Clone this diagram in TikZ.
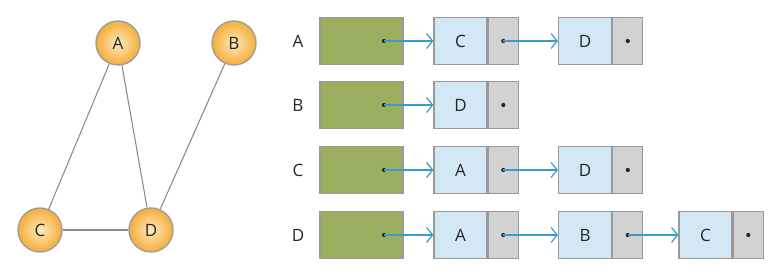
\documentclass[tikz,border=0pt]{standalone}
\usepackage{fontspec}
\setmainfont{Open Sans}
\usetikzlibrary{arrows.meta,positioning}
\definecolor{vertexorange}{HTML}{F5AE38}
\definecolor{vertexlight}{HTML}{FDE9BC}
\definecolor{headgreen}{HTML}{9BAF60}
\definecolor{cellblue}{HTML}{D4E7F5}
\definecolor{cellgray}{HTML}{D2D2D2}
\definecolor{linkblue}{HTML}{3C9BC9}

\begin{document}
\begin{tikzpicture}[x=1pt,y=-1pt,font=\fontsize{17}{20}\selectfont,text=black!85,
  vertex/.style={circle,draw=black!38,line width=1.4,inner color=vertexlight,outer color=vertexorange,minimum size=44,inner sep=0},
  edge/.style={draw=black!45,line width=1.1},
  head/.style={draw=black!40,line width=1.3,fill=headgreen,minimum width=83,minimum height=47,inner sep=0},
  datum/.style={draw=black!40,line width=1.3,fill=cellblue,minimum width=53,minimum height=47,inner sep=0},
  ptr/.style={draw=black!40,line width=1.3,fill=cellgray,minimum width=30,minimum height=47,inner sep=0,right=0pt of #1},
  pin/.style={circle,fill=black!85,minimum size=4.2,inner sep=0},
  link/.style={draw=linkblue,line width=1.2,-{Straight Barb[length=6,width=15,line width=1.2]}}]
\useasboundingbox (0,0) rectangle (776,275);
% graph
\node[vertex] (vA) at (118,43) {A};
\node[vertex] (vB) at (234,43) {B};
\node[vertex] (vC) at (40,230) {C};
\node[vertex] (vD) at (151,230) {D};
\draw[edge] (vA) -- (vC);
\draw[edge] (vA) -- (vD);
\draw[edge] (vB) -- (vD);
\draw[edge] (vC) -- (vD);
% adjacency lists
\node (lA) at (298,41) {A};
\node[head] (hA) at (361.5,41) {};
\node[pin] (hpA) at (384,41) {};
\node[datum] (aA1) at (460.5,41) {C};
\node[ptr=aA1] (pA1) {};
\node[pin] (dA1) at (pA1) {};
\node[datum] (aA2) at (585,41) {D};
\node[ptr=aA2] (pA2) {};
\node[pin] (dA2) at (pA2) {};
\draw[link] (hpA.center) -- (aA1.west);
\draw[link] (dA1.center) -- (aA2.west);

\node (lB) at (298,105) {B};
\node[head] (hB) at (361.5,105) {};
\node[pin] (hpB) at (384,105) {};
\node[datum] (aB1) at (460.5,105) {D};
\node[ptr=aB1] (pB1) {};
\node[pin] (dB1) at (pB1) {};
\draw[link] (hpB.center) -- (aB1.west);

\node (lC) at (298,170) {C};
\node[head] (hC) at (361.5,170) {};
\node[pin] (hpC) at (384,170) {};
\node[datum] (aC1) at (460.5,170) {A};
\node[ptr=aC1] (pC1) {};
\node[pin] (dC1) at (pC1) {};
\node[datum] (aC2) at (585,170) {D};
\node[ptr=aC2] (pC2) {};
\node[pin] (dC2) at (pC2) {};
\draw[link] (hpC.center) -- (aC1.west);
\draw[link] (dC1.center) -- (aC2.west);

\node (lD) at (298,235) {D};
\node[head] (hD) at (361.5,235) {};
\node[pin] (hpD) at (384,235) {};
\node[datum] (aD1) at (460.5,235) {A};
\node[ptr=aD1] (pD1) {};
\node[pin] (dD1) at (pD1) {};
\node[datum] (aD2) at (585,235) {B};
\node[ptr=aD2] (pD2) {};
\node[pin] (dD2) at (pD2) {};
\node[datum] (aD3) at (705.5,235) {C};
\node[ptr=aD3] (pD3) {};
\node[pin] (dD3) at (pD3) {};
\draw[link] (hpD.center) -- (aD1.west);
\draw[link] (dD1.center) -- (aD2.west);
\draw[link] (dD2.center) -- (aD3.west);
\end{tikzpicture}
\end{document}
